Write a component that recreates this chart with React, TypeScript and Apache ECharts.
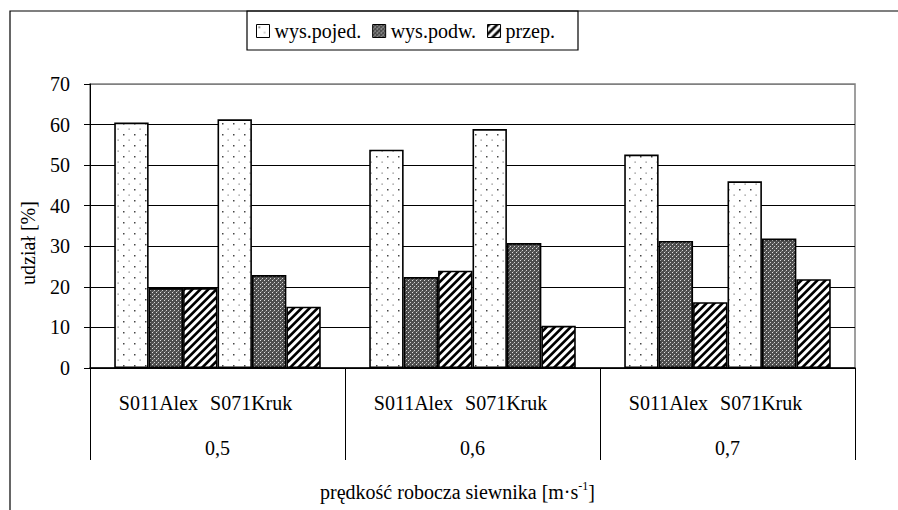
import React, { useEffect, useRef } from 'react';
import * as echarts from 'echarts';

const speeds = ['0,5', '0,6', '0,7'];
const seeders = ['S011Alex', 'S071Kruk'];
const legendNames = ['wys.pojed.', 'wys.podw.', 'przep.'];
const s011Pojed = [60.5, 53.8, 52.6];
const s011Podw = [19.7, 22.4, 31.3];
const s011Przep = [19.7, 24.0, 16.2];
const s071Pojed = [61.3, 58.9, 46.0];
const s071Podw = [22.9, 30.8, 31.9];
const s071Przep = [15.1, 10.4, 21.9];
const yMin = 0;
const yMax = 70;
const yInterval = 10;
const yTitle = 'udział [%]';
const xTitleMain = 'prędkość robocza siewnika [m·s';
const xTitleSup = '-1';
const xTitleEnd = ']';

const FONT = 'Liberation Serif';

function makePattern(w: number, h: number, shade: (x: number, y: number) => number) {
  const c = document.createElement('canvas');
  c.width = w;
  c.height = h;
  const ctx = c.getContext('2d')!;
  const img = ctx.createImageData(w, h);
  const S = 4;
  for (let y = 0; y < h; y++) {
    for (let x = 0; x < w; x++) {
      let sum = 0;
      for (let sy = 0; sy < S; sy++) {
        for (let sx = 0; sx < S; sx++) {
          sum += shade(x + (sx + 0.5) / S, y + (sy + 0.5) / S);
        }
      }
      const v = Math.round(sum / (S * S));
      const i = (y * w + x) * 4;
      img.data[i] = v;
      img.data[i + 1] = v;
      img.data[i + 2] = v;
      img.data[i + 3] = 255;
    }
  }
  ctx.putImageData(img, 0, 0);
  return { image: c.toDataURL(), repeat: 'repeat', imageWidth: w, imageHeight: h };
}

export default function App() {
  const ref = useRef<HTMLDivElement>(null);

  useEffect(() => {
    const chart = echarts.init(ref.current!, null, { renderer: 'svg' });

    const dotted = makePattern(11, 11, (x, y) => {
      if (x >= 2 && x < 3.6 && y >= 2 && y < 3.6) return 70;
      if (x >= 7.5 && x < 8.8 && y >= 7.5 && y < 8.8) return 130;
      return 255;
    });
    const cross = makePattern(4, 4, (x, y) => {
      const xi = Math.floor(x);
      const yi = Math.floor(y);
      if (xi === 0 && yi === 0) return 225;
      if (xi === 2 && yi === 2) return 210;
      if (xi === 1 && yi === 3) return 130;
      return 78;
    });
    const stripes = makePattern(8, 8, (x, y) => {
      const m = (((x + y) % 8) + 8) % 8;
      return m < 3.6 ? 0 : 255;
    });

    const bar = (name: string, data: number[], color: any) => ({
      type: 'bar',
      name,
      data,
      barGap: '0%',
      barCategoryGap: '19%',
      itemStyle: { color, borderColor: '#000', borderWidth: 1.6 },
      emphasis: { disabled: true },
    });

    const splitColors = [] as string[];
    for (let v = yMin; v <= yMax; v += yInterval) splitColors.push(v === yMax ? '#808080' : '#000');

    chart.setOption({
      animation: false,
      backgroundColor: '#fff',
      grid: {
        left: 90,
        right: 43,
        top: 84,
        bottom: 142,
        show: true,
        borderColor: '#808080',
        borderWidth: 1.5,
        backgroundColor: 'transparent',
      },
      legend: {
        data: legendNames,
        left: 256,
        top: 21,
        padding: 0,
        itemWidth: 13,
        itemHeight: 13,
        itemGap: 11,
        icon: 'rect',
        selectedMode: false,
        itemStyle: { borderColor: '#000', borderWidth: 1 },
        textStyle: { fontFamily: FONT, fontSize: 20, color: '#000' },
      },
      xAxis: {
        type: 'category',
        data: speeds,
        axisLine: { lineStyle: { color: '#000', width: 1.5 } },
        axisTick: { show: true, interval: 0, length: 92, lineStyle: { color: '#000', width: 1 } },
        axisLabel: {
          interval: 0,
          margin: 12.5,
          color: '#000',
          fontFamily: FONT,
          fontSize: 20,
          formatter: (v: string) => `{s1|${seeders[0]}}{s2|${seeders[1]}}\n{b|${v}}`,
          rich: {
            s1: { fontFamily: FONT, fontSize: 20, color: '#000', lineHeight: 45, padding: [0, 12, 0, 0] },
            s2: { fontFamily: FONT, fontSize: 20, color: '#000', lineHeight: 45, padding: [0, 24, 0, 0] },
            b: { fontFamily: FONT, fontSize: 20, color: '#000', lineHeight: 45 },
          },
        },
        splitLine: { show: false },
      },
      yAxis: {
        type: 'value',
        min: yMin,
        max: yMax,
        interval: yInterval,
        axisLine: { show: true, lineStyle: { color: '#000', width: 1 } },
        axisTick: { show: true, length: 6, lineStyle: { color: '#000', width: 1 } },
        axisLabel: { margin: 20, color: '#000', fontFamily: FONT, fontSize: 20 },
        splitLine: { show: true, lineStyle: { color: splitColors, width: 1 } },
      },
      series: [
        bar(legendNames[0], s011Pojed, dotted),
        bar(legendNames[1], s011Podw, cross),
        bar(legendNames[2], s011Przep, stripes),
        bar(legendNames[0], s071Pojed, dotted),
        bar(legendNames[1], s071Podw, cross),
        bar(legendNames[2], s071Przep, stripes),
      ],
      graphic: [
        {
          type: 'polyline',
          shape: { points: [[10, 510], [10, 11], [898, 11]] },
          style: { stroke: '#000', lineWidth: 1.2, fill: 'none' },
          silent: true,
        },
        {
          type: 'rect',
          shape: { x: 247, y: 11, width: 331, height: 39 },
          style: { stroke: '#000', lineWidth: 1.2, fill: 'none' },
          silent: true,
        },
        {
          type: 'text',
          x: 28,
          y: 243,
          rotation: Math.PI / 2,
          silent: true,
          style: {
            text: yTitle,
            fontFamily: FONT,
            fontSize: 20,
            fill: '#000',
            align: 'center',
            verticalAlign: 'middle',
          },
        },
        {
          type: 'text',
          x: 457.5,
          y: 492,
          silent: true,
          style: {
            text: `{n|${xTitleMain}}{sup|${xTitleSup}}{n|${xTitleEnd}}`,
            align: 'center',
            verticalAlign: 'middle',
            fill: '#000',
            fontFamily: FONT,
            rich: {
              n: { fontFamily: FONT, fontSize: 20, lineHeight: 24, fill: '#000' },
              sup: { fontFamily: FONT, fontSize: 12, lineHeight: 12, verticalAlign: 'top', fill: '#000' },
            },
          },
        },
      ],
    });

    return () => chart.dispose();
  }, []);

  return (
    <div
      ref={ref}
      style={{ position: 'absolute', left: 0, top: 0, width: 898, height: 510, background: '#fff' }}
    />
  );
}
